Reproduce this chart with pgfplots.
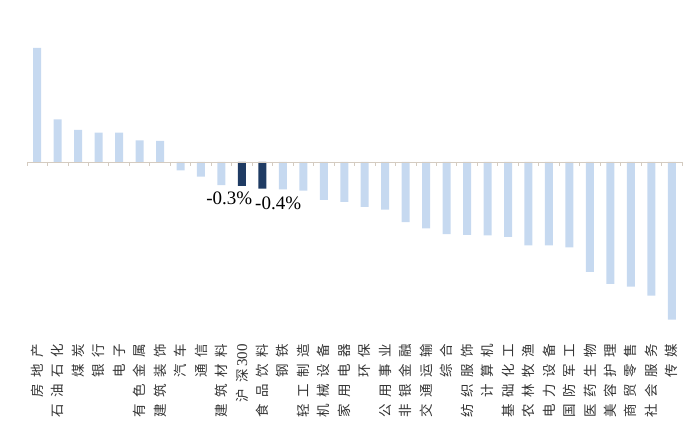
\documentclass[border=0pt]{standalone}
\usepackage{fontspec}
\setmainfont{Liberation Serif}
\newfontfamily\cjk[LetterSpace=48]{Noto Sans CJK SC}
\usepackage{pgfplots}
\usepackage{pgfplotstable}
\pgfplotsset{compat=1.18}
\definecolor{lb}{HTML}{C6D9F0}
\definecolor{db}{HTML}{1F3B63}
\definecolor{axc}{HTML}{D4CBC0}
\pgfplotstableread{
x y
0 1.63
1 0.61
2 0.46
3 0.42
4 0.42
5 0.31
6 0.30
7 -0.12
8 -0.21
9 -0.33
12 -0.39
13 -0.41
14 -0.54
15 -0.57
16 -0.64
17 -0.68
18 -0.86
19 -0.95
20 -1.03
21 -1.04
22 -1.05
23 -1.07
24 -1.19
25 -1.19
26 -1.22
27 -1.57
28 -1.74
29 -1.78
30 -1.91
31 -2.25
}\lightdata
\pgfplotstableread{
x y
10 -0.34
11 -0.38
}\darkdata
\begin{document}
\begin{tikzpicture}
\begin{axis}[
  at={(27pt,92pt)}, anchor=south west,
  scale only axis, width=655pt, height=322pt,
  xmin=-0.5, xmax=31.5, ymin=-2.6, ymax=2.0,
  axis line style={draw=none},
  ytick=\empty,
  xtick={0,...,31},
  major tick length=0pt,
  xticklabels={房地产,石油石化,煤炭,银行,电子,有色金属,建筑装饰,汽车,通信,建筑材料,{沪深\,{\rmfamily\fontsize{15}{15}\selectfont 300}},食品饮料,钢铁,轻工制造,机械设备,家用电器,环保,公用事业,非银金融,交通运输,综合,纺织服饰,计算机,基础化工,农林牧渔,电力设备,国防军工,医药生物,美容护理,商贸零售,社会服务,传媒},
  xticklabel style={rotate=90, anchor=east, font=\cjk\fontsize{13.5}{14}\selectfont, text=black!80, inner sep=0pt},
  clip=false,
]
\addplot[ybar, bar width=8pt, bar shift=0pt, fill=lb, draw=none] table[x=x,y=y]{\lightdata};
\addplot[ybar, bar width=8pt, bar shift=0pt, fill=db, draw=none] table[x=x,y=y]{\darkdata};
\draw[axc, line width=0.9pt] (axis cs:-0.5,0) -- (axis cs:31.5,0);
\pgfplotsinvokeforeach{-0.5,0.5,1.5,2.5,3.5,4.5,5.5,6.5,7.5,8.5,9.5,10.5,11.5,12.5,13.5,14.5,15.5,16.5,17.5,18.5,19.5,20.5,21.5,22.5,23.5,24.5,25.5,26.5,27.5,28.5,29.5,30.5,31.5}{
  \draw[axc, line width=0.8pt] (axis cs:#1,0) -- ++(0pt,-4pt);
}
\node[anchor=north, inner sep=0pt, font=\fontsize{19}{19}\selectfont] at (axis cs:9.38,-0.43) {-0.3\%};
\node[anchor=north, inner sep=0pt, font=\fontsize{19}{19}\selectfont] at (axis cs:11.77,-0.50) {-0.4\%};
\end{axis}
\pgfresetboundingbox
\path (0,0) rectangle (700pt,436pt);
\end{tikzpicture}
\end{document}
